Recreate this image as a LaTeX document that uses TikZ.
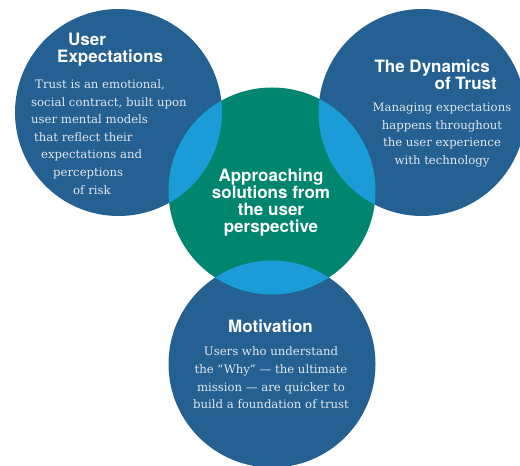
\documentclass[tikz,border=0pt]{standalone}
\usepackage{fontspec}
\newfontfamily\headfont{TeX Gyre Heros}
\newfontfamily\bodyfont{DejaVu Serif}
\definecolor{trustblue}{RGB}{36,96,146}
\definecolor{coregreen}{RGB}{0,134,111}
\definecolor{lensblue}{RGB}{27,155,215}
\definecolor{blurbgrey}{RGB}{226,230,238}

\begin{document}
\begin{tikzpicture}[
    x=1bp, y=-1bp,
    bubble/.style={circle, inner sep=0pt, minimum size=207bp, draw=none},
    heading/.style={inner sep=0pt, text=white, font=\headfont\bfseries\fontsize{17bp}{17bp}\selectfont},
    blurb/.style={inner sep=0pt, text=blurbgrey, font=\bodyfont\fontsize{11.7bp}{17.6bp}\selectfont}
]
\useasboundingbox (0,0) rectangle (520,466);

\node[bubble, fill=trustblue] (expect) at (118.5,112.5) {};
\node[bubble, fill=trustblue] (dynamics) at (422,112.5) {};
\node[bubble, fill=trustblue] (motive) at (272,364) {};
\node[bubble, fill=coregreen] (core) at (272,191) {};

% overlaps with the centre circle
\begin{scope}
\clip (core.center) circle[radius=103.5bp];
\fill[lensblue] (expect.center) circle[radius=103.5bp];
\fill[lensblue] (dynamics.center) circle[radius=103.5bp];
\fill[lensblue] (motive.center) circle[radius=103.5bp];
\end{scope}

\node[heading, align=left, anchor=west] (expecttitle) at (57,50) {\hspace*{11bp}User\\Expectations};
\node[blurb, align=left, anchor=west] (expecttext) at (31,137) {\hspace*{4bp}Trust is an emotional,\\social contract, built upon\\user mental models\\\hspace*{3bp}that reflect their\\\hspace*{10bp}expectations and\\\hspace*{22bp}perceptions\\\hspace*{42bp}of risk};

\node[heading, align=right, anchor=east] (dynamicstitle) at (497,75) {The Dynamics\hspace*{7bp}\\of Trust};
\node[blurb, align=center] (dynamicstext) at (442,135) {Managing expectations\\happens throughout\\the user experience\\with technology};

\node[heading, align=center] (coretext) at (271,203) {Approaching\\solutions from\\the user\\perspective};

\node[heading] (motivetitle) at (270.5,326) {Motivation};
\node[blurb, align=center] (motivetext) at (271,378) {Users who understand\\the “Why” — the ultimate\\mission — are quicker to\\build a foundation of trust};
\end{tikzpicture}
\end{document}
